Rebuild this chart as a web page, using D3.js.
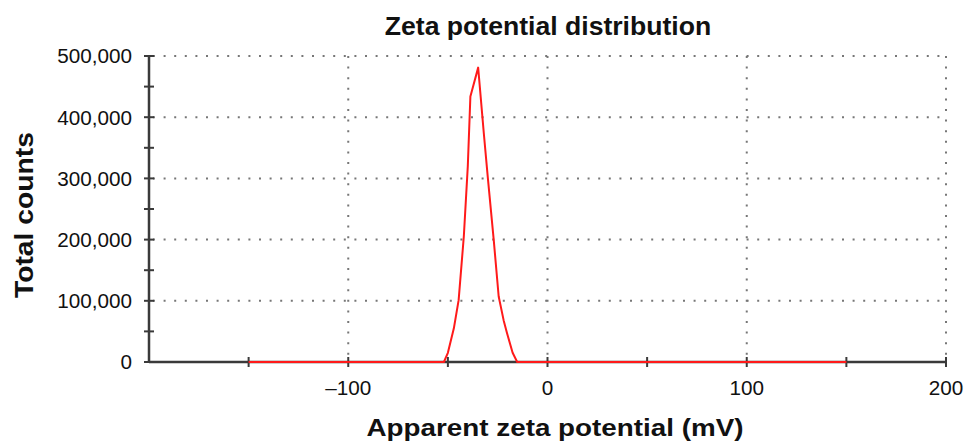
<!DOCTYPE html>
<html><head><meta charset="utf-8">
<script src="https://cdn.jsdelivr.net/npm/d3@7"></script>
<style>body{margin:0;background:#fff;} text{font-family:"Liberation Sans",Arial,sans-serif;}</style>
</head><body><svg id="c" width="969" height="442"></svg>
<script>
const potential = [-150,-52,-50,-47,-44.6,-42,-40,-38.7,-34.8,-32,-30,-27,-24.5,-22,-20.3,-17.5,-15.2,150];
const counts = [0,0,15000,55000,101000,205000,320000,434000,481000,375000,303000,200000,107000,68000,47000,15000,0,0];
const xTicks = [-100,0,100,200];
const yTicks = [0,100000,200000,300000,400000,500000];

const svg = d3.select("#c");
const L=149, R=946, T=56, B=362;
const x = d3.scaleLinear().domain([-200,200]).range([L,R]);
const y = d3.scaleLinear().domain([0,500000]).range([B,T]);

const grid = svg.append("g").attr("stroke","#777").attr("stroke-width",2).attr("stroke-dasharray","2,8.6").attr("fill","none");
yTicks.filter(d=>d>0).forEach(d=>grid.append("line").attr("x1",L+4).attr("x2",R).attr("y1",y(d)).attr("y2",y(d)));
xTicks.forEach(d=>grid.append("line").attr("x1",x(d)).attr("x2",x(d)).attr("y1",T).attr("y2",B-4));

// axes
const axc="#3a3a3a";
svg.append("line").attr("x1",L).attr("x2",L).attr("y1",T).attr("y2",B).attr("stroke",axc).attr("stroke-width",2.5);
svg.append("line").attr("x1",L).attr("x2",R).attr("y1",B).attr("y2",B).attr("stroke",axc).attr("stroke-width",2.5);
d3.range(0,500001,50000).forEach(d=>svg.append("line").attr("x1",L-5).attr("x2",L+5).attr("y1",y(d)).attr("y2",y(d)).attr("stroke",axc).attr("stroke-width",2));
d3.range(-150,201,50).forEach(d=>svg.append("line").attr("x1",x(d)).attr("x2",x(d)).attr("y1",B-5).attr("y2",B+5).attr("stroke",axc).attr("stroke-width",2));

const fmt = d3.format(",");
yTicks.forEach(d=>svg.append("text").attr("x",L-17).attr("y",y(d)).attr("dy","0.36em").attr("text-anchor","end").attr("font-size",20.7).attr("fill","#111").text(fmt(d)));
xTicks.forEach(d=>svg.append("text").attr("x",x(d)).attr("y",395).attr("text-anchor","middle").attr("font-size",20.7).attr("fill","#111").text(d<0?"\u2013"+Math.abs(d):d));

// line
const data = potential.map((p,i)=>[p,counts[i]]);
svg.append("path").datum(data).attr("d",d3.line().x(d=>x(d[0])).y(d=>y(d[1]))).attr("fill","none").attr("stroke","#ff1a1a").attr("stroke-width",2).attr("stroke-linejoin","round");

svg.append("text").attr("x",548).attr("y",35).attr("text-anchor","middle").attr("font-size",26.6).attr("font-weight","bold").attr("fill","#111").text("Zeta potential distribution");
svg.append("text").attr("x",555).attr("y",436).attr("text-anchor","middle").attr("font-size",24.5).attr("font-weight","bold").attr("fill","#111")
  .attr("textLength",377).attr("lengthAdjust","spacingAndGlyphs").text("Apparent zeta potential (mV)");
svg.append("text").attr("transform","translate(33,215) rotate(-90)").attr("text-anchor","middle").attr("font-size",25).attr("font-weight","bold").attr("fill","#111")
  .attr("textLength",166).attr("lengthAdjust","spacingAndGlyphs").text("Total counts");
</script></body></html>
